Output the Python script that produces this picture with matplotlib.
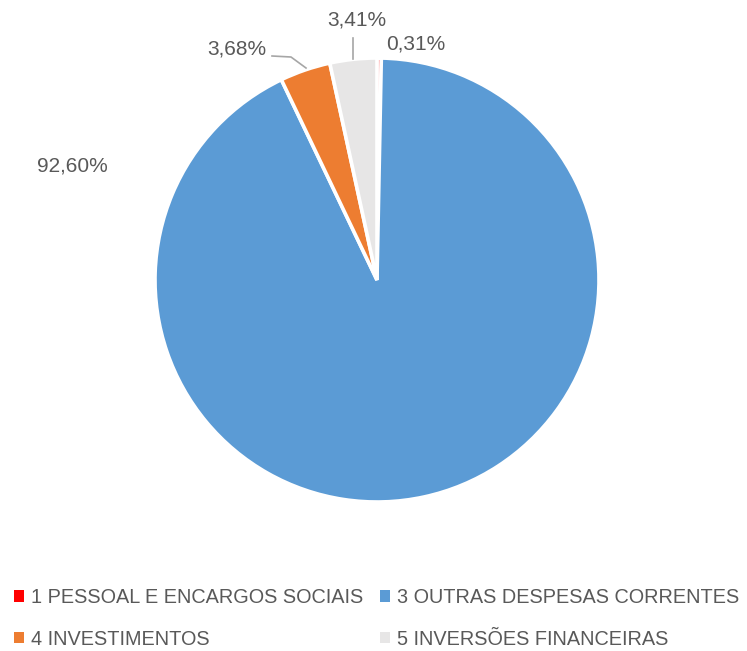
import matplotlib.pyplot as plt
from matplotlib.patches import Patch

categories = ["1 PESSOAL E ENCARGOS SOCIAIS", "3 OUTRAS DESPESAS CORRENTES",
              "4 INVESTIMENTOS", "5 INVERSÕES FINANCEIRAS"]
shares = [0.31, 92.60, 3.68, 3.41]
pct_labels = ["0,31%", "92,60%", "3,68%", "3,41%"]
colors = ["#FF0000", "#5B9BD5", "#ED7D31", "#E7E6E6"]

plt.rcParams['font.family'] = ['Liberation Sans', 'DejaVu Sans']
text_color = "#595959"

W, H = 747, 651
fig = plt.figure(figsize=(W / 100, H / 100), dpi=100)

# pie centre and radius in pixels
cx, cy, r = 377, 280, 222
ax = fig.add_axes([(cx - r) / W, (H - cy - r) / H, 2 * r / W, 2 * r / H])
ax.pie(shares, colors=colors, startangle=90, counterclock=False, radius=1,
       wedgeprops=dict(edgecolor="white", linewidth=2.6))
ax.set_xlim(-1, 1)
ax.set_ylim(-1, 1)
ax.set_aspect("equal")
ax.axis("off")


def px(x, y):
    return (x - cx) / r, (cy - y) / r


# label placement (pixel positions from the reference)
label_pos = [(416, 44), (72, 166), (237, 49), (357, 20)]
for lab, (x, y) in zip(pct_labels, label_pos):
    tx, ty = px(x, y)
    ax.text(tx, ty, lab, ha="center", va="center", fontsize=15,
            color=text_color, clip_on=False)

# leader lines
for pts in [[(272, 56), (291, 57), (306, 68)], [(353, 38), (353, 59)]]:
    xs, ys = zip(*[px(*p) for p in pts])
    ax.plot(xs, ys, color="#A6A6A6", lw=1.2, clip_on=False)

order = [0, 2, 1, 3]
handles = [Patch(facecolor=colors[i], edgecolor="none") for i in order]
labels = [categories[i] for i in order]
fig.legend(handles, labels, ncol=2, loc="upper left",
           bbox_to_anchor=(0.008, 1 - 580 / H), frameon=False,
           fontsize=14.3, labelcolor=text_color, handlelength=0.5, handleheight=0.5,
           handletextpad=0.35, columnspacing=0.85, labelspacing=1.15,
           borderaxespad=0.0)

fig.savefig("out.png", dpi=100)
